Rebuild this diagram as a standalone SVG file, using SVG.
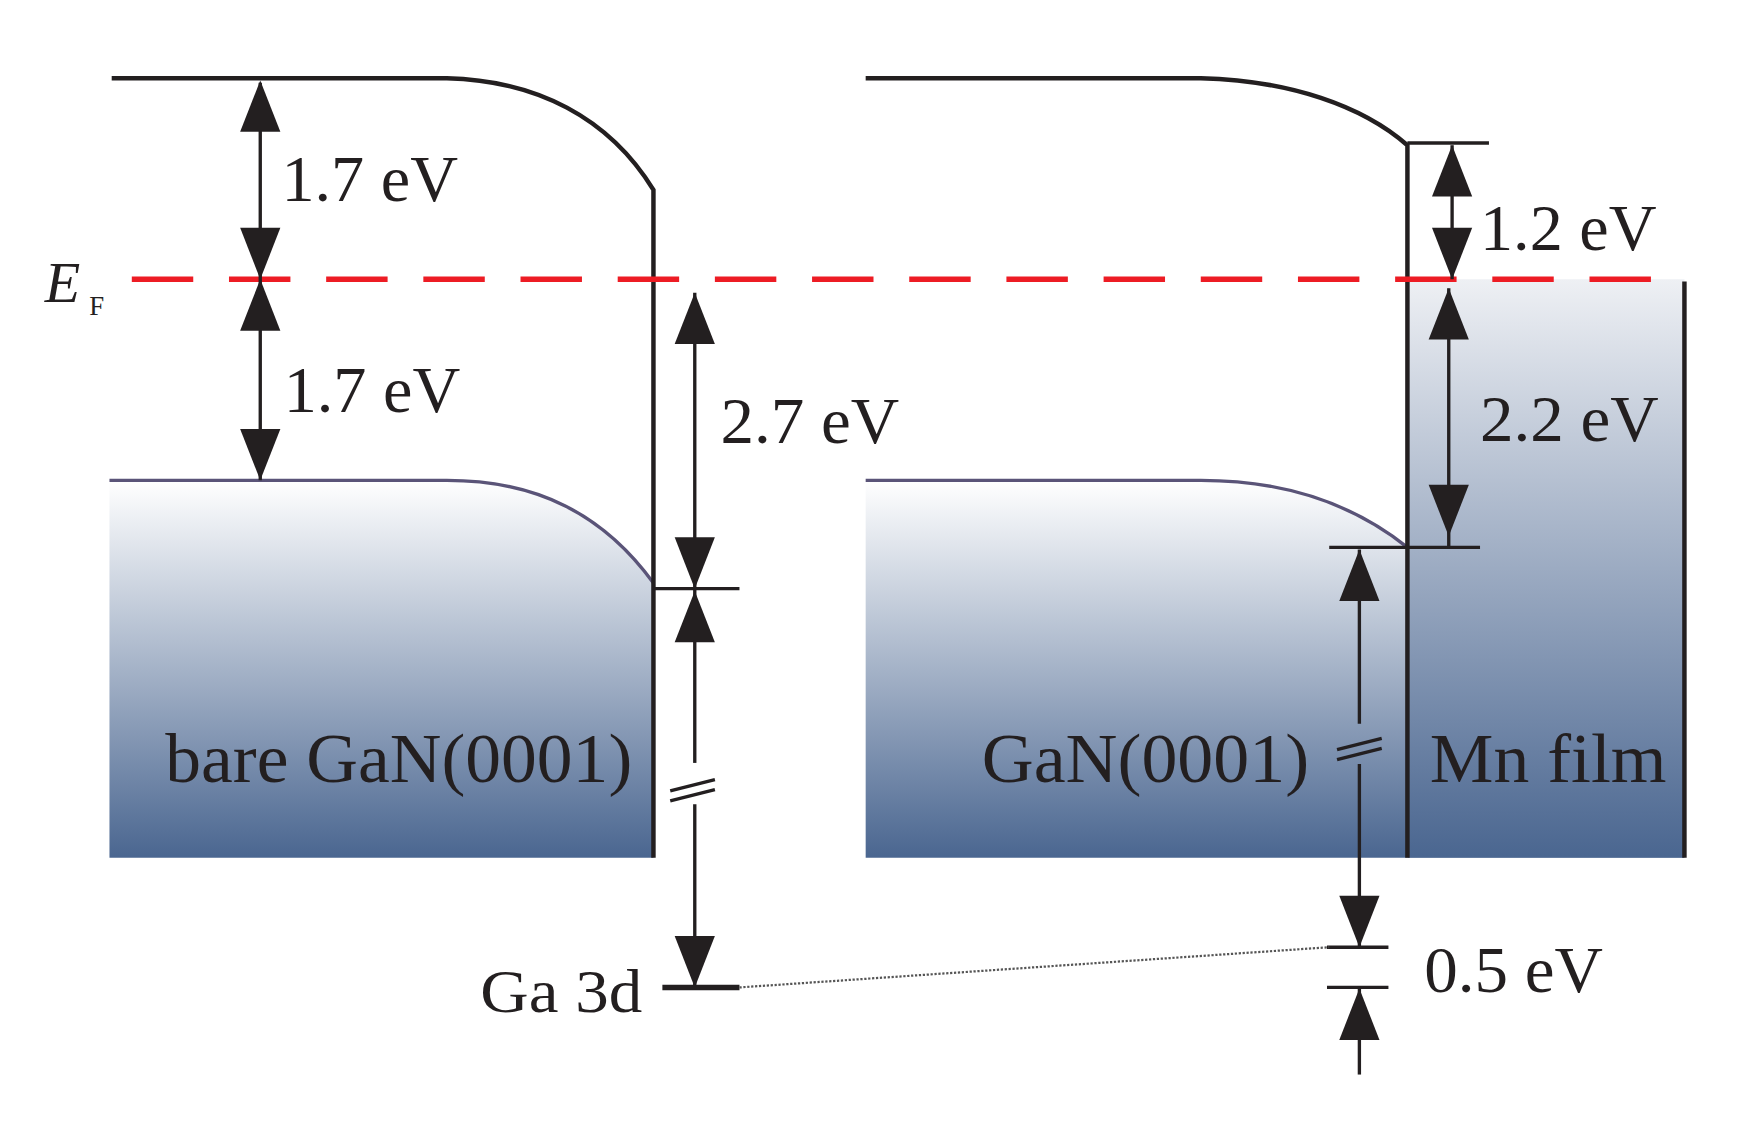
<svg xmlns="http://www.w3.org/2000/svg" width="1742" height="1122" viewBox="0 0 1742 1122">
<style>
.k{stroke:#231f20;fill:none}
.t{font-family:"Liberation Serif",serif;fill:#231f20}
.h{fill:#231f20}
</style>
<defs>
<linearGradient id="g" x1="0" y1="430" x2="0" y2="768" gradientUnits="userSpaceOnUse">
<stop offset="0" stop-color="#ffffff"/><stop offset="1" stop-color="#4a6690"/></linearGradient>
<linearGradient id="g2" x1="0" y1="250" x2="0" y2="768" gradientUnits="userSpaceOnUse">
<stop offset="0" stop-color="#eef0f4"/><stop offset="1" stop-color="#4a6690"/></linearGradient>
</defs>
<rect width="1742" height="1122" fill="#fff"/>
<g transform="scale(1.117)">
<g id="left-band">
<path d="M98,430 H400 C480,430 540,460 585,522 V768 H98 Z" fill="url(#g)"/>
<path d="M98,430 H400 C480,430 540,460 585,522" stroke="#5a5478" stroke-width="3" fill="none"/>
<path class="k" stroke-width="4" d="M100,70 H400 C480,72 545,105 585,170 V768"/>
<text class="t" x="566" y="700" font-size="62" text-anchor="end" textLength="418" lengthAdjust="spacingAndGlyphs">bare GaN(0001)</text>
</g>
<g id="right-band">
<rect x="1260" y="250" width="248" height="518" fill="url(#g2)"/>
<path d="M775,430 H1075 C1150,430 1210,450 1260,490 V768 H775 Z" fill="url(#g)"/>
<path d="M775,430 H1075 C1150,430 1210,450 1260,490" stroke="#5a5478" stroke-width="3" fill="none"/>
<path class="k" stroke-width="4" d="M775,70 H1075 C1155,72 1220,95 1260,130 V768"/>
<line class="k" stroke-width="4" x1="1508" y1="252" x2="1508" y2="768"/>
<text class="t" x="1172" y="700" font-size="62" text-anchor="end" textLength="293" lengthAdjust="spacingAndGlyphs">GaN(0001)</text>
<text class="t" x="1280" y="700" font-size="62" textLength="212" lengthAdjust="spacingAndGlyphs">Mn film</text>
</g>
<g id="fermi">
<line x1="118" y1="250" x2="1510" y2="250" stroke="#ed1c24" stroke-width="5" stroke-dasharray="55,32"/>
<text class="t" x="40" y="270" font-size="52" font-style="italic">E</text>
<text class="t" x="80" y="282" font-size="24">F</text>
</g>
<g id="connectors">
<g class="k" stroke-width="3">
<line x1="233" y1="74" x2="233" y2="430"/>
<line x1="622" y1="262" x2="622" y2="527"/>
<line x1="622" y1="527" x2="622" y2="683"/>
<line x1="622" y1="720" x2="622" y2="884"/>
<line x1="1300" y1="130" x2="1300" y2="250"/>
<line x1="1297" y1="258" x2="1297" y2="490"/>
<line x1="1217" y1="492" x2="1217" y2="648"/>
<line x1="1217" y1="684" x2="1217" y2="848"/>
<line x1="1217" y1="884" x2="1217" y2="962"/>
<line x1="600" y1="708" x2="640" y2="698"/>
<line x1="600" y1="717" x2="640" y2="707"/>
<line x1="1197" y1="671" x2="1237" y2="661"/>
<line x1="1197" y1="680" x2="1237" y2="670"/>
</g>
<g class="k" stroke-width="3">
<line x1="585" y1="527" x2="662" y2="527"/>
<line x1="1260" y1="128" x2="1333" y2="128"/>
<line x1="1190" y1="490" x2="1325" y2="490"/>
<line x1="1188" y1="848" x2="1243" y2="848"/>
<line x1="1188" y1="884" x2="1243" y2="884"/>
</g>
<line class="k" stroke-width="5" x1="593" y1="884" x2="662" y2="884"/>
<line x1="662" y1="884" x2="1190" y2="848" stroke="#555" stroke-width="2" stroke-dasharray="2,1.5"/>
<g class="h">
<path d="M233,72 l-18,46 h36 z"/>
<path d="M233,250 l-18,-46 h36 z"/>
<path d="M233,250 l-18,46 h36 z"/>
<path d="M233,430 l-18,-46 h36 z"/>
<path d="M622,262 l-18,46 h36 z"/>
<path d="M622,527 l-18,-46 h36 z"/>
<path d="M622,529 l-18,46 h36 z"/>
<path d="M622,884 l-18,-46 h36 z"/>
<path d="M1300,130 l-18,46 h36 z"/>
<path d="M1300,250 l-18,-46 h36 z"/>
<path d="M1297,258 l-18,46 h36 z"/>
<path d="M1297,480 l-18,-46 h36 z"/>
<path d="M1217,492 l-18,46 h36 z"/>
<path d="M1217,848 l-18,-46 h36 z"/>
<path d="M1217,885 l-18,46 h36 z"/>
</g>
</g>
<g id="labels">
<text class="t" x="252" y="180" font-size="58" textLength="158" lengthAdjust="spacingAndGlyphs">1.7 eV</text>
<text class="t" x="254" y="369" font-size="58" textLength="158" lengthAdjust="spacingAndGlyphs">1.7 eV</text>
<text class="t" x="645" y="397" font-size="58" textLength="160" lengthAdjust="spacingAndGlyphs">2.7 eV</text>
<text class="t" x="1325" y="224" font-size="58" textLength="158" lengthAdjust="spacingAndGlyphs">1.2 eV</text>
<text class="t" x="1325" y="395" font-size="58" textLength="160" lengthAdjust="spacingAndGlyphs">2.2 eV</text>
<text class="t" x="1275" y="888" font-size="58" textLength="160" lengthAdjust="spacingAndGlyphs">0.5 eV</text>
<text class="t" x="575" y="906" font-size="54" text-anchor="end" textLength="145" lengthAdjust="spacingAndGlyphs">Ga 3d</text>
</g>
</g>
</svg>
